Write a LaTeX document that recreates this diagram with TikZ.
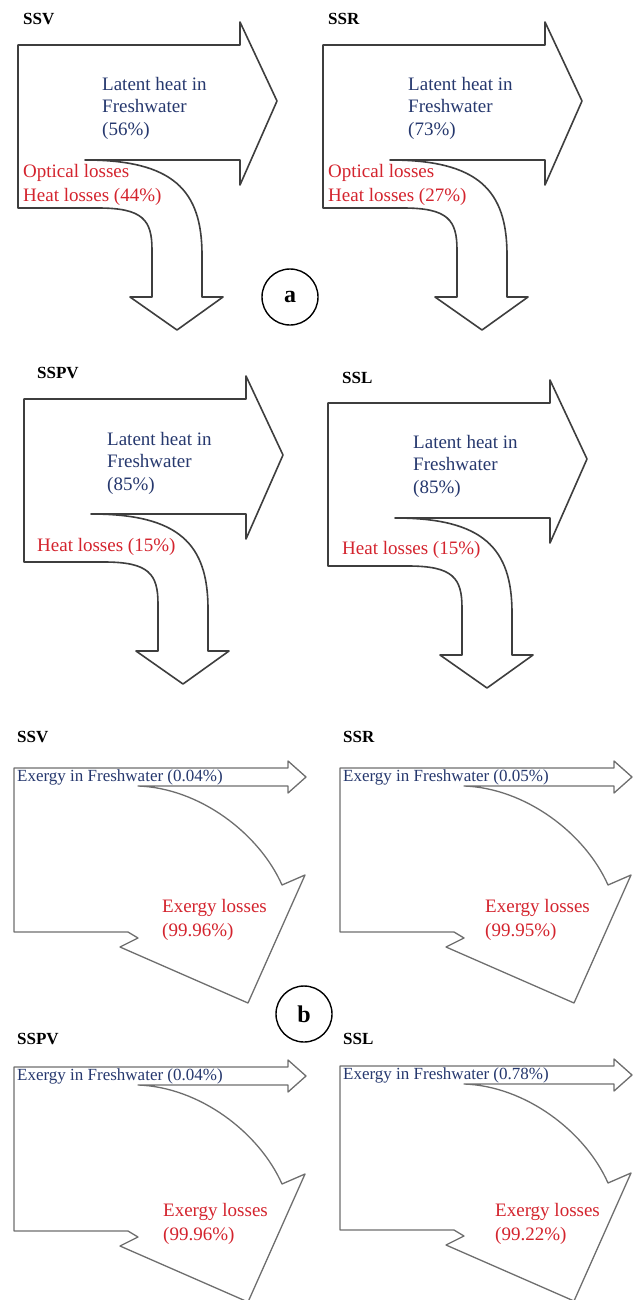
\documentclass[tikz,border=0pt]{standalone}
\usepackage{fontspec}
\setmainfont{Liberation Serif}
\usepackage{xcolor}
\definecolor{inkblue}{RGB}{38,56,110}
\definecolor{lossred}{RGB}{212,36,46}
\definecolor{coal}{RGB}{62,62,62}
\definecolor{ash}{RGB}{110,110,110}
\usetikzlibrary{positioning}
\tikzset{
  %% energy flow: wide arrow right, bent arrow down
  heatflow/.pic={
    \draw[flowa] (0,0) -- (222,0) -- (222,-23) -- (259,56) -- (222,140) -- (222,115) -- (67,115)
      .. controls (155,115) and (184,145) .. (184,210) -- (184,252) -- (205,252) -- (159,285)
      -- (112,252) -- (134,252) -- (134,205) .. controls (134,175) and (125,163) .. (80,163)
      -- (0,163) -- cycle;
  },
  %% exergy flow: thin arrow right, wide arrow bent down-right
  exflow/.pic={
    \draw[flowb] (0,0) -- (274,0) -- (274,-7) -- (292,9) -- (274,25) -- (274,18) -- (124,18)
      .. controls (185,20) and (245,65) .. (268,117) -- (291,107) -- (234,235) -- (106,179)
      -- (124,170) -- (114,164) -- (0,164) -- cycle;
  },
}

\begin{document}
\begin{tikzpicture}[x=1pt,y=-1pt,
  flowa/.style={draw=coal,line width=1.6pt,line join=round,fill=white},
  flowb/.style={draw=ash,line width=1.3pt,line join=round,fill=white},
  tag/.style={font=\fontsize{17}{20}\selectfont\bfseries,anchor=west,inner sep=0pt},
  gain/.style={font=\fontsize{19}{22.5}\selectfont,text=inkblue,align=left,anchor=west,inner sep=0pt},
  loss/.style={font=\fontsize{19}{23.5}\selectfont,text=lossred,align=left,anchor=west,inner sep=0pt},
  exgain/.style={font=\fontsize{17}{20}\selectfont,text=inkblue,anchor=west,inner sep=0pt},
  badge/.style={circle,draw,line width=1.4pt,minimum size=56pt,inner sep=0pt,
                font=\fontsize{24}{24}\selectfont\bfseries},
]
  \useasboundingbox (0,0) rectangle (633,1300);

  % (a) energy
  \pic at (18,45) {heatflow};
  \pic at (323,45) {heatflow};
  \pic at (24,399) {heatflow};
  \pic at (328,403) {heatflow};

  \node[tag](ssvA) at (23,19) {SSV};
  \node[gain](ssvAgain) at (102,108) {Latent heat in\\Freshwater\\(56\%)};
  \node[loss](ssvAloss) at (23,185) {Optical losses\\Heat losses (44\%)};

  \node[tag](ssrA) at (328,19) {SSR};
  \node[gain](ssrAgain) at (408,108) {Latent heat in\\Freshwater\\(73\%)};
  \node[loss](ssrAloss) at (328,185) {Optical losses\\Heat losses (27\%)};

  \node[tag](sspvA) at (37,373) {SSPV};
  \node[gain](sspvAgain) at (107,463) {Latent heat in\\Freshwater\\(85\%)};
  \node[loss](sspvAloss) at (37,547) {Heat losses (15\%)};

  \node[tag](sslA) at (342,378) {SSL};
  \node[gain](sslAgain) at (413,466) {Latent heat in\\Freshwater\\(85\%)};
  \node[loss](sslAloss) at (342,550) {Heat losses (15\%)};

  \node[badge](partA) at (290,297) {a};

  % (b) exergy
  \pic at (14,768) {exflow};
  \pic at (340,768) {exflow};
  \pic at (14,1067) {exflow};
  \pic at (340,1066) {exflow};

  \node[tag](ssvB) at (17,737) {SSV};
  \node[exgain](ssvBgain) at (17,777) {Exergy in Freshwater (0.04\%)};
  \node[loss](ssvBloss) at (162,920) {Exergy losses\\(99.96\%)};

  \node[tag](ssrB) at (343,737) {SSR};
  \node[exgain](ssrBgain) at (343,777) {Exergy in Freshwater (0.05\%)};
  \node[loss](ssrBloss) at (485,920) {Exergy losses\\(99.95\%)};

  \node[tag](sspvB) at (17,1039) {SSPV};
  \node[exgain](sspvBgain) at (17,1076) {Exergy in Freshwater (0.04\%)};
  \node[loss](sspvBloss) at (163,1224) {Exergy losses\\(99.96\%)};

  \node[tag](sslB) at (343,1039) {SSL};
  \node[exgain](sslBgain) at (343,1075) {Exergy in Freshwater (0.78\%)};
  \node[loss](sslBloss) at (495,1224) {Exergy losses\\(99.22\%)};

  \node[badge](partB) at (304,1014) {b};
\end{tikzpicture}
\end{document}
